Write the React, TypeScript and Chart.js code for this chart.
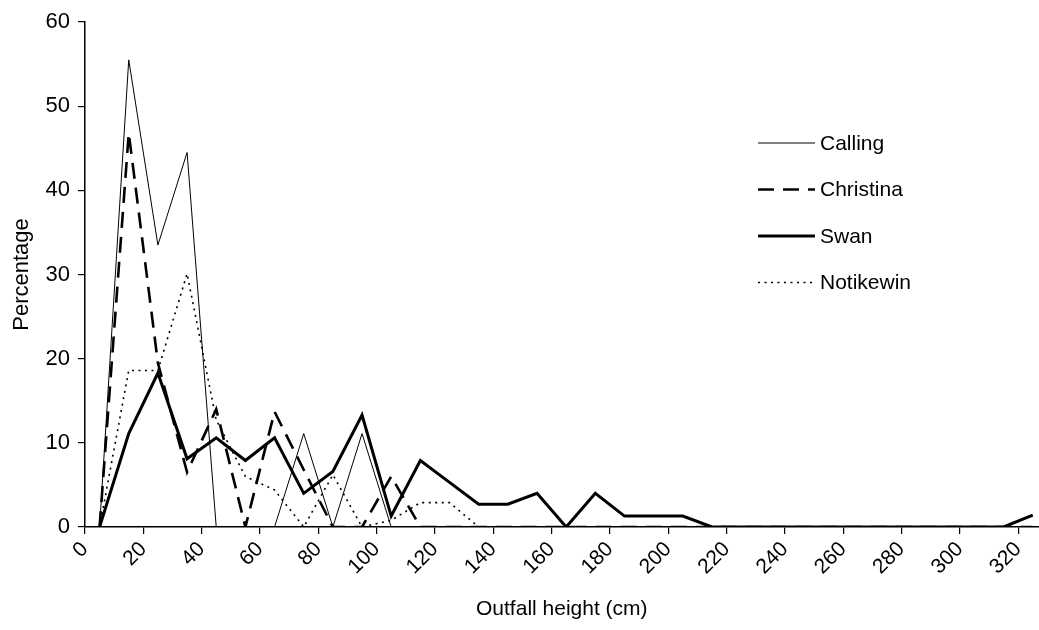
import React, { useEffect, useRef } from "react";
import { Chart, registerables } from "chart.js";

Chart.register(...registerables);

const heights = [5, 15, 25, 35, 45, 55, 65, 75, 85, 95, 105, 115, 125, 135, 145, 155, 165, 175, 185, 195, 205, 215, 225, 235, 245, 255, 265, 275, 285, 295, 305, 315, 325];
const calling = [0, 55.5, 33.5, 44.5, 0, 0, 0, 11.1, 0, 11.1, 0, 0, 0, 0, 0, 0, 0, 0, 0, 0, 0, 0, 0, 0, 0, 0, 0, 0, 0, 0, 0, 0, 0];
const christina = [0, 46.8, 19.5, 6.5, 14, 0, 13.7, 6.8, 0, 0, 6, 0, 0, 0, 0, 0, 0, 0, 0, 0, 0, 0, 0, 0, 0, 0, 0, 0, 0, 0, 0, 0, 0];
const swan = [0, 11.1, 18.3, 8.1, 10.6, 7.9, 10.6, 4, 6.6, 13.3, 1.3, 7.9, 5.3, 2.7, 2.7, 4, 0, 4, 1.3, 1.3, 1.3, 0, 0, 0, 0, 0, 0, 0, 0, 0, 0, 0, 1.4];
const notikewin = [0, 18.6, 18.6, 30.1, 12.7, 6, 4.4, 0, 6.2, 0, 0.8, 2.9, 2.9, 0, 0, 0, 0, 0, 0, 0, 0, 0, 0, 0, 0, 0, 0, 0, 0, 0, 0, 0, 0];
const seriesNames = ["Calling", "Christina", "Swan", "Notikewin"];

const FONT = "'Liberation Sans', Arial, sans-serif";

const legendPlugin = {
  id: "customLegend",
  afterDraw(chart: any) {
    const ctx = chart.ctx;
    const ds = chart.data.datasets;
    ctx.save();
    ctx.font = `21px ${FONT}`;
    ctx.fillStyle = "#000";
    ctx.textBaseline = "middle";
    const x0 = 758;
    const x1 = 815;
    const y0 = 143;
    const gap = 46.5;
    ds.forEach((d: any, i: number) => {
      const y = y0 + i * gap;
      ctx.beginPath();
      ctx.strokeStyle = d.borderColor;
      ctx.lineWidth = d.borderWidth;
      ctx.setLineDash(d.borderDash || []);
      ctx.moveTo(x0, y);
      ctx.lineTo(x1, y);
      ctx.stroke();
      ctx.setLineDash([]);
      ctx.fillText(d.label, 820, y + 1);
    });
    ctx.restore();
  },
};

export default function App() {
  const ref = useRef<HTMLCanvasElement>(null);
  useEffect(() => {
    const toPts = (arr: number[]) => arr.map((v, i) => ({ x: heights[i], y: v }));
    const chart = new Chart(ref.current!, {
      type: "line",
      data: {
        datasets: [
          { label: seriesNames[0], data: toPts(calling), borderColor: "#000", borderWidth: 1, pointRadius: 0, tension: 0, fill: false },
          { label: seriesNames[1], data: toPts(christina), borderColor: "#000", borderWidth: 2.6, borderDash: [16, 9], pointRadius: 0, tension: 0, fill: false },
          { label: seriesNames[2], data: toPts(swan), borderColor: "#000", borderWidth: 3, pointRadius: 0, tension: 0, fill: false },
          { label: seriesNames[3], data: toPts(notikewin), borderColor: "#000", borderWidth: 1.6, borderDash: [2, 4.5], pointRadius: 0, tension: 0, fill: false },
        ],
      },
      options: {
        animation: false,
        responsive: false,
        maintainAspectRatio: false,
        layout: { padding: { top: 22, right: 0, left: 0, bottom: 0 } },
        plugins: { legend: { display: false }, tooltip: { enabled: false } },
        scales: {
          x: {
            type: "linear",
            min: 0,
            max: 327,
            afterFit: (s: any) => { s.height = 103; },
            border: { display: true, color: "#000", width: 1.5 },
            grid: { display: true, drawOnChartArea: false, drawTicks: true, tickLength: 7, color: "#000", lineWidth: 1.2 },
            ticks: {
              stepSize: 20,
              includeBounds: false,
              autoSkip: false,
              minRotation: 45,
              maxRotation: 45,
              color: "#000",
              font: { family: FONT, size: 21 },
              padding: 3,
            },
            title: { display: true, text: "Outfall height (cm)", color: "#000", font: { family: FONT, size: 21 }, padding: { top: 4, bottom: 8 } },
          },
          y: {
            min: 0,
            max: 60,
            afterFit: (s: any) => { s.width = 85; },
            border: { display: true, color: "#000", width: 1.5 },
            grid: { display: true, drawOnChartArea: false, drawTicks: true, tickLength: 7, color: "#000", lineWidth: 1.2 },
            ticks: { stepSize: 10, color: "#000", font: { family: FONT, size: 22 }, padding: 8 },
            title: { display: true, text: "Percentage", color: "#000", font: { family: FONT, size: 22 }, padding: { top: 9, bottom: 4 } },
          },
        },
      },
      plugins: [legendPlugin],
    } as any);
    return () => chart.destroy();
  }, []);
  return (
    <div style={{ position: "fixed", left: 0, top: 0, width: 1039, height: 630, background: "#fff" }}>
      <canvas ref={ref} width={1039} height={630} style={{ display: "block" }} />
    </div>
  );
}
